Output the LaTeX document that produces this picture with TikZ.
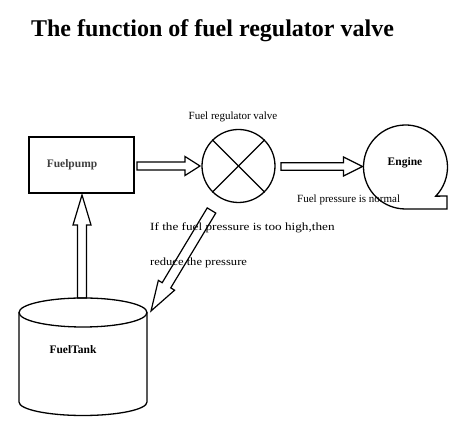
\documentclass[tikz,border=0pt]{standalone}
\usepackage{fontspec}
\setmainfont{Liberation Serif}
\usetikzlibrary{calc}
\newcommand{\blockarr}[5]{%
  \coordinate (ba-h) at ($(#2)!#3!(#1)$);
  \draw[arrowline] ($(#1)!#4!90:(#2)$) -- ($(ba-h)!#4!90:(#2)$) -- ($(ba-h)!#5!90:(#2)$)
    -- (#2) -- ($(ba-h)!#5!-90:(#2)$) -- ($(ba-h)!#4!-90:(#2)$) -- ($(#1)!#4!-90:(#2)$) -- cycle;
}
\tikzset{
  x=1pt, y=1pt,
  shapeline/.style={draw=black, line width=1.3pt},
  arrowline/.style={draw=black, line width=1.2pt, line join=miter},
  lbl/.style={inner sep=0pt, font=\fontsize{11}{13}\selectfont},
  boldlbl/.style={inner sep=0pt, font=\fontsize{11.5}{13}\selectfont\bfseries},
}
\begin{document}
\begin{tikzpicture}
\useasboundingbox (0,0) rectangle (464,436);
% title
\node[inner sep=0pt, anchor=base, font=\fontsize{24}{28}\selectfont\bfseries] (title) at (212.5,399) {The function of fuel regulator valve};
% fuel pump
\node[shapeline, rectangle, minimum width=105pt, minimum height=56pt, inner sep=0pt] (pump) at (81.5,271) {};
\node[boldlbl, text=black!75] (pumplbl) at (72,271) {Fuelpump};
% valve
\node[shapeline, circle, minimum size=73pt, inner sep=0pt] (valve) at (238.5,270) {};
\draw[shapeline] (valve.45) -- (valve.225);
\draw[shapeline] (valve.135) -- (valve.-45);
\node[lbl] (valvelbl) at (233,319) {Fuel regulator valve};
% engine
\node[circle, minimum size=84pt, inner sep=0pt, outer sep=0pt] (engine) at (405.5,269) {};
\draw[shapeline] (engine.center) ++(-44:42) arc[start angle=-44, end angle=270, radius=42]
  -- (447,227) -- (447,240) -- cycle;
\node[boldlbl] (enginelbl) at (405,273) {Engine};
\node[lbl, anchor=west] (normallbl) at (297,236) {Fuel pressure is normal};
% tank
\coordinate (tanktop) at (83,123.5);
\coordinate (tankbot) at (83,34);
\draw[shapeline] (tanktop) ellipse[x radius=64, y radius=14.5];
\draw[shapeline] ($(tanktop)+(-64,0)$) -- ($(tankbot)+(-64,0)$)
  arc[start angle=180, end angle=360, x radius=64, y radius=13.5] -- ($(tanktop)+(64,0)$);
\node[boldlbl] (tanklbl) at (73,86) {FuelTank};
% texts near diagonal arrow
\node[lbl, anchor=west, font=\fontsize{11}{13}\selectfont\addfontfeature{FakeStretch=1.2}] (highlbl) at (150,208) {If the fuel pressure is too high,then};
\node[lbl, anchor=west, font=\fontsize{11}{13}\selectfont\addfontfeature{FakeStretch=1.14}] (reducelbl) at (150,173) {reduce the pressure};
% arrows
\coordinate (a1s) at (137,270);
\coordinate (a1e) at (200,270);
\blockarr{a1s}{a1e}{15pt}{4pt}{9.5pt}
\coordinate (a2s) at (281,269.5);
\coordinate (a2e) at (362.5,269.5);
\blockarr{a2s}{a2e}{19pt}{3.8pt}{9.5pt}
\coordinate (a3s) at (82,138);
\coordinate (a3e) at (82,241);
\blockarr{a3s}{a3e}{30pt}{4.5pt}{9pt}
\coordinate (a4s) at (211.5,225.5);
\coordinate (a4e) at (151,125);
\blockarr{a4s}{a4e}{30pt}{5pt}{9.5pt}
\end{tikzpicture}
\end{document}
